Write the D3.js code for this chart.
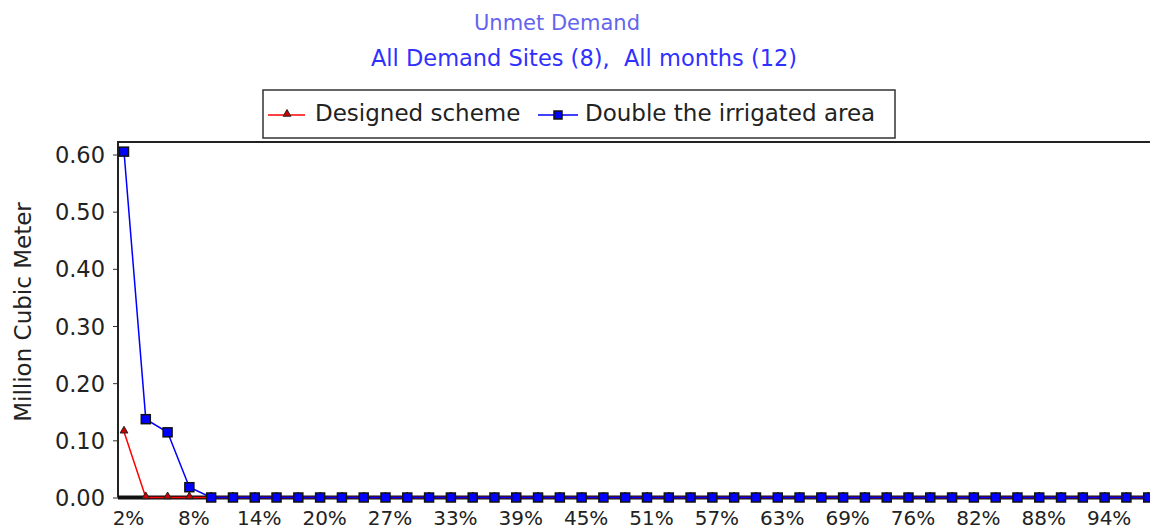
<!DOCTYPE html>
<html>
<head>
<meta charset="utf-8">
<script src="https://cdn.jsdelivr.net/npm/d3@7"></script>
<style>
  body { margin: 0; background: #fff; }
  svg { display: block; font-family: "DejaVu Sans", Verdana, sans-serif; }
  .pre { white-space: pre; }
</style>
</head>
<body>
<div id="viz"></div>
<script>
var width = 1150,
    height = 531;

// exceedance percentages (49 steps)
var categories = [2, 4, 6, 8, 10, 12, 14, 16, 18, 20, 22, 24, 27, 29, 31, 33, 35, 37, 39, 41,
                  43, 45, 47, 49, 51, 53, 55, 57, 59, 61, 63, 65, 67, 69, 71, 73, 76, 78, 80, 82,
                  84, 86, 88, 90, 92, 94, 96, 98, 100];
var xTickLabels = ["2%", "8%", "14%", "20%", "27%", "33%", "39%", "45%", "51%", "57%",
                   "63%", "69%", "76%", "82%", "88%", "94%"];
var yTicks = [0, 0.1, 0.2, 0.3, 0.4, 0.5, 0.6];

var seriesNames = ["Designed scheme", "Double the irrigated area"];
var designed = [0.115, 0, 0, 0, 0, 0, 0, 0, 0, 0, 0, 0, 0, 0, 0, 0, 0, 0, 0, 0,
                0, 0, 0, 0, 0, 0, 0, 0, 0, 0, 0, 0, 0, 0, 0, 0, 0, 0, 0, 0,
                0, 0, 0, 0, 0, 0, 0, 0, 0];
var doubled  = [0.605, 0.137, 0.114, 0.018, 0, 0, 0, 0, 0, 0, 0, 0, 0, 0, 0, 0, 0, 0, 0, 0,
                0, 0, 0, 0, 0, 0, 0, 0, 0, 0, 0, 0, 0, 0, 0, 0, 0, 0, 0, 0,
                0, 0, 0, 0, 0, 0, 0, 0, 0];

var svg = d3.select("#viz")
    .append("svg")
    .attr("width", width)
    .attr("height", height);

var plotLeft = 118, plotTop = 142, plotBottom = 497.5, plotRight = 1185;

var x = d3.scalePoint()
    .domain(categories)
    .range([124, 1170]);

var y = d3.scaleLinear()
    .domain([0, 0.6])
    .range([plotBottom, 154.5]);

// ****************** Titles ***************************
svg.append("text")
    .attr("x", 557)
    .attr("y", 30)
    .attr("text-anchor", "middle")
    .style("font-size", "21px")
    .attr("fill", "#6464ee")
    .text("Unmet Demand");

svg.append("text")
    .attr("class", "pre")
    .attr("x", 584)
    .attr("y", 66)
    .attr("text-anchor", "middle")
    .style("font-size", "22.5px")
    .attr("fill", "#3030ff")
    .text("All Demand Sites (8),  All months (12)");

// ****************** Legend ***************************
var legend = svg.append("g");
legend.append("rect")
    .attr("x", 263).attr("y", 90)
    .attr("width", 632).attr("height", 48)
    .attr("fill", "#fff")
    .attr("stroke", "#333")
    .attr("stroke-width", 1.5);

legend.append("line")
    .attr("x1", 268).attr("x2", 305).attr("y1", 115).attr("y2", 115)
    .attr("stroke", "#ff0000").attr("stroke-width", 1.5);
legend.append("path")
    .attr("d", d3.symbol().type(d3.symbolTriangle).size(26))
    .attr("transform", "translate(287,114)")
    .attr("fill", "#cc0000").attr("stroke", "#222").attr("stroke-width", 1);
legend.append("text")
    .attr("x", 315).attr("y", 121)
    .style("font-size", "23px")
    .attr("fill", "#222")
    .text(seriesNames[0]);

legend.append("line")
    .attr("x1", 538).attr("x2", 578).attr("y1", 115).attr("y2", 115)
    .attr("stroke", "#0000ff").attr("stroke-width", 1.5);
legend.append("rect")
    .attr("x", 554).attr("y", 111).attr("width", 8).attr("height", 8)
    .attr("fill", "#0000ff").attr("stroke", "#111").attr("stroke-width", 1.5);
legend.append("text")
    .attr("x", 585).attr("y", 121)
    .style("font-size", "23px")
    .attr("fill", "#222")
    .text(seriesNames[1]);

// ****************** Axes ***************************
var yAxis = svg.append("g")
    .attr("transform", "translate(" + plotLeft + ",0)")
    .call(d3.axisLeft(y).tickValues(yTicks).tickFormat(d3.format(".2f")).tickSize(5).tickPadding(8));
yAxis.select(".domain").remove();
yAxis.selectAll("line").attr("stroke", "#333");
yAxis.selectAll("text")
    .style("font-size", "22.5px")
    .style("font-family", "DejaVu Sans")
    .attr("fill", "#222")
    .attr("dy", "0.36em");

var xAxis = svg.append("g")
    .attr("transform", "translate(0," + plotBottom + ")")
    .call(d3.axisBottom(x)
        .tickValues(categories.filter(function(d, i) { return i % 3 === 0; }))
        .tickFormat(function(d, i) { return xTickLabels[i]; })
        .tickSize(0).tickPadding(13));
xAxis.select(".domain").remove();
xAxis.selectAll("text")
    .style("font-size", "20px")
    .style("font-family", "DejaVu Sans")
    .attr("fill", "#222")
    .attr("dx", 4);

// frame
svg.append("path")
    .attr("d", "M" + plotRight + "," + plotTop + "H" + plotLeft + "V" + plotBottom)
    .attr("fill", "none")
    .attr("stroke", "#222")
    .attr("stroke-width", 2);
svg.append("line")
    .attr("x1", plotLeft).attr("x2", plotRight).attr("y1", plotBottom).attr("y2", plotBottom)
    .attr("stroke", "#111").attr("stroke-width", 4);

svg.append("text")
    .attr("transform", "translate(31,312) rotate(-90)")
    .attr("text-anchor", "middle")
    .style("font-size", "23px")
    .attr("fill", "#222")
    .text("Million Cubic Meter");

// ****************** Series ***************************
var line = d3.line()
    .x(function(d, i) { return x(categories[i]); })
    .y(function(d) { return y(d); });

svg.append("path")
    .datum(designed)
    .attr("d", line)
    .attr("fill", "none")
    .attr("stroke", "#ff0000")
    .attr("stroke-width", 1.5);

svg.append("g").selectAll("path")
    .data(designed)
    .enter().append("path")
    .attr("d", d3.symbol().type(d3.symbolTriangle).size(26))
    .attr("transform", function(d, i) { return "translate(" + x(categories[i]) + "," + (y(d) - 1) + ")"; })
    .attr("fill", "#cc0000")
    .attr("stroke", "#222")
    .attr("stroke-width", 1);

svg.append("path")
    .datum(doubled)
    .attr("d", line)
    .attr("fill", "none")
    .attr("stroke", "#0000ff")
    .attr("stroke-width", 1.5);

svg.append("g").selectAll("rect")
    .data(doubled)
    .enter().append("rect")
    .attr("x", function(d, i) { return x(categories[i]) - 4.5; })
    .attr("y", function(d) { return y(d) - 4.5; })
    .attr("width", 9)
    .attr("height", 9)
    .attr("fill", "#0000ff")
    .attr("stroke", "#111")
    .attr("stroke-width", 1.5);
</script>
</body>
</html>
